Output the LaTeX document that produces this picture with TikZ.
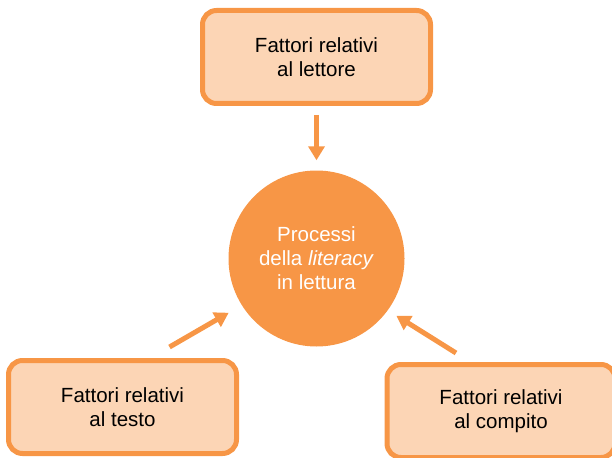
\documentclass[tikz,border=0pt]{standalone}
\usepackage{fontspec}
\setmainfont{Liberation Sans}
\usetikzlibrary{arrows.meta}
\definecolor{accorange}{HTML}{F79646}
\definecolor{accpeach}{HTML}{FCD5B5}
\tikzset{
  factor/.style={draw=accorange, fill=accpeach, line width=5pt, rounded corners=14pt,
    minimum width=228pt, minimum height=93pt, align=center,
    font=\fontsize{20.5}{24}\selectfont},
  proc/.style={circle, fill=accorange, text=white, minimum size=176pt, align=center,
    font=\fontsize{20.5}{24}\selectfont},
  arr/.style={draw=accorange, line width=5pt, -{Triangle[width=16pt,length=14pt]}}
}
\begin{document}
\begin{tikzpicture}[x=1pt,y=-1pt]
\useasboundingbox (0,0) rectangle (612,457);
% the three groups of factors
\node[factor] (lettore) at (316.5,57) {Fattori relativi\\al lettore};
\node[factor] (testo) at (122.5,407) {Fattori relativi\\al testo};
\node[factor] (compito) at (501,411) {Fattori relativi\\al compito};
% centre
\node[proc] (processi) at (316.5,258.5) {Processi\\della \textit{literacy}\\in lettura};
% arrows into the centre
\draw[arr, shorten <=9pt, shorten >=10pt] (lettore.south) -- (processi.north);
\draw[arr, shorten >=15pt] ([xshift=47pt,yshift=11pt]testo.north) -- (processi.212);
\draw[arr, shorten >=10pt] ([xshift=-45pt,yshift=9pt]compito.north) -- (processi.324.5);
\end{tikzpicture}
\end{document}
